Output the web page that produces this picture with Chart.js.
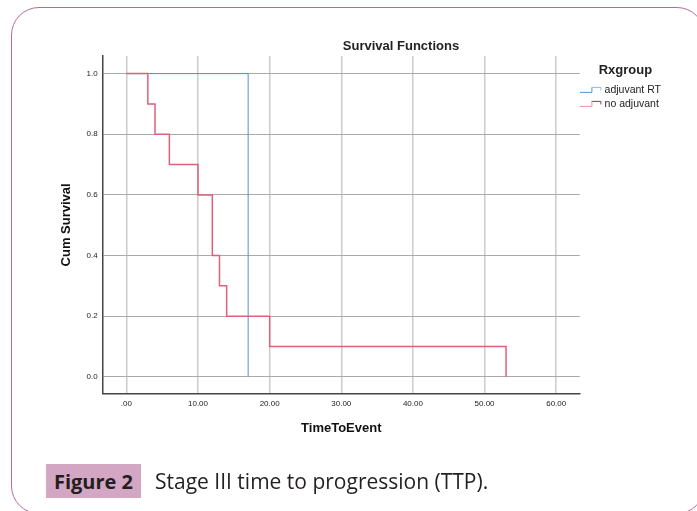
<!DOCTYPE html>
<html>
<head>
<meta charset="utf-8">
<script src="https://cdn.jsdelivr.net/npm/chart.js@4/dist/chart.umd.min.js"></script>
<style>
html,body{margin:0;padding:0;width:697px;height:511px;overflow:hidden;background:#fff;}
#card{position:absolute;left:11px;top:7px;width:694px;height:507px;border:1.5px solid #b8699e;border-radius:28px;box-sizing:border-box;}
#c{position:absolute;left:0;top:0;width:802px;height:511px;}
#fig{position:absolute;left:46px;top:464px;width:95px;height:34px;background:#d3a6c3;font:700 20px 'Open Sans',sans-serif;color:#231f20;line-height:35px;text-align:center;}
#capt{position:absolute;left:155px;top:467px;height:34px;line-height:34px;font:400 21px 'Open Sans',sans-serif;color:#231f20;white-space:nowrap;}
</style>
</head>
<body>
<div id="card"></div>
<canvas id="c" width="802" height="511"></canvas>
<div id="fig">Figure 2</div>
<div id="capt">Stage III time to progression (TTP).</div>
<script>
// ---- data ----
const seriesNames = ['adjuvant RT', 'no adjuvant'];
const adjTimes = [0, 17];
const adjSurv = [1.0, 0.0];
const noAdjTimes = [0, 3, 4, 6, 10, 12, 13, 14, 20, 53];
const noAdjSurv = [1.0, 0.9, 0.8, 0.7, 0.6, 0.4, 0.3, 0.2, 0.1, 0.0];
const xTicks = [0, 10, 20, 30, 40, 50, 60];
const yTicks = [0.0, 0.2, 0.4, 0.6, 0.8, 1.0];
const chartTitle = 'Survival Functions';
const xTitle = 'TimeToEvent';
const yTitle = 'Cum Survival';
const legendTitle = 'Rxgroup';

Chart.defaults.font.family = "'Liberation Sans', Arial, sans-serif";
Chart.defaults.color = '#222';

function makeIcon(cLeft, cRight) {
  const cv = document.createElement('canvas');
  cv.width = 22; cv.height = 9;
  const g = cv.getContext('2d');
  g.lineWidth = 1;
  g.strokeStyle = cLeft;
  g.beginPath(); g.moveTo(0, 6.5); g.lineTo(11.5, 6.5); g.lineTo(11.5, 1.5); g.stroke();
  g.strokeStyle = cRight;
  g.beginPath(); g.moveTo(11.5, 1.5); g.lineTo(20.5, 1.5); g.lineTo(20.5, 4.5); g.stroke();
  return cv;
}
const icons = [makeIcon('#5b8ed6', '#8fb4e6'), makeIcon('#e88fa0', '#d0143c')];

const toPts = (xs, ys) => xs.map((t, i) => ({x: t, y: ys[i]}));

// Graph title, centred over the whole graph canvas (as in the SPSS output)
const canvasTitle = {
  id: 'canvasTitle',
  afterDraw(chart) {
    const {ctx, chartArea} = chart;
    ctx.save();
    ctx.font = "bold 13px 'Liberation Sans', Arial, sans-serif";
    ctx.fillStyle = '#222';
    ctx.textAlign = 'center';
    ctx.textBaseline = 'middle';
    ctx.fillText(chartTitle, chart.width / 2, chartArea.top - 10);
    ctx.restore();
  }
};

new Chart(document.getElementById('c'), {
  type: 'line',
  data: {
    datasets: [
      {label: seriesNames[0], data: toPts(adjTimes, adjSurv), borderColor: '#5b8ed6', borderWidth: 1,
       stepped: 'before', pointRadius: 0, fill: false, order: 1},
      {label: seriesNames[1], data: toPts(noAdjTimes, noAdjSurv), borderColor: '#e0607c', borderWidth: 1.5,
       stepped: 'before', pointRadius: 0, fill: false, order: 0}
    ]
  },
  plugins: [canvasTitle],
  options: {
    responsive: false,
    animation: false,
    devicePixelRatio: 1,
    layout: {padding: {left: 50, top: 56, right: 131, bottom: 75}},
    plugins: {
      tooltip: {enabled: false},
      title: {display: false},
      legend: {
        position: 'right', align: 'start', fullSize: false,
        title: {display: true, text: legendTitle, color: '#222',
                font: {size: 13, weight: 'bold'}, padding: {top: 8, bottom: 2}},
        labels: {
          usePointStyle: true, pointStyleWidth: 16, padding: 3.5,
          font: {size: 10.5}, color: '#222',
          generateLabels: () => seriesNames.map((n, i) => ({
            text: n, pointStyle: icons[i], fillStyle: 'rgba(0,0,0,0)', strokeStyle: 'rgba(0,0,0,0)',
            lineWidth: 0, hidden: false, datasetIndex: i, fontColor: '#222'
          }))
        }
      }
    },
    scales: {
      x: {
        type: 'linear', min: -3.3, max: 63.3,
        afterBuildTicks: s => { s.ticks = xTicks.map(v => ({value: v})); },
        ticks: {callback: v => (v === 0 ? '.00' : Number(v).toFixed(2)), font: {size: 8}, color: '#222',
                padding: 5, maxRotation: 0, autoSkip: false},
        grid: {color: '#cccccc', lineWidth: 1.5, drawTicks: false},
        border: {color: '#444', width: 1.5},
        title: {display: true, text: xTitle, color: '#111', font: {size: 13, weight: 'bold'},
                padding: {top: 7, bottom: 0}}
      },
      y: {
        type: 'linear', min: -0.056, max: 1.058,
        afterBuildTicks: s => { s.ticks = yTicks.map(v => ({value: v})); },
        ticks: {callback: v => Number(v).toFixed(1), font: {size: 8}, color: '#222', padding: 5, autoSkip: false},
        grid: {color: '#aaaaaa', lineWidth: 1, drawTicks: false},
        border: {color: '#444', width: 1.5},
        title: {display: true, text: yTitle, color: '#111', font: {size: 13, weight: 'bold'},
                padding: {top: 9, bottom: 7}}
      }
    }
  }
});
</script>
</body>
</html>
